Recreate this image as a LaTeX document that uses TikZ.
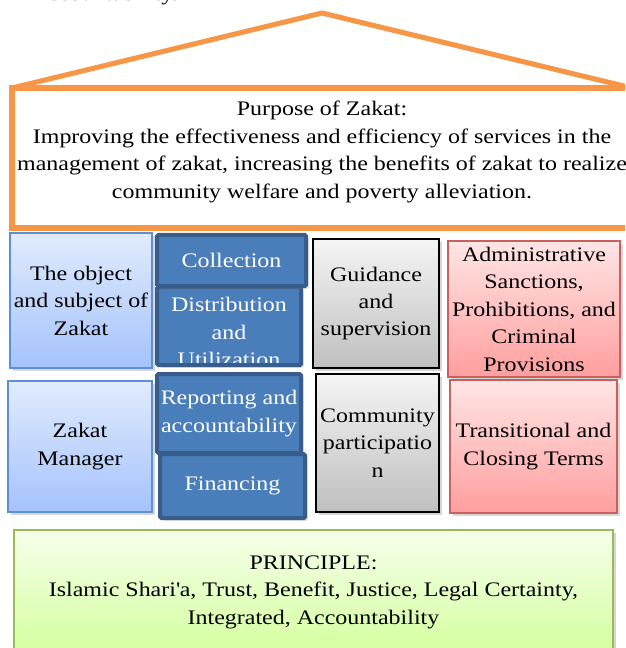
\documentclass[tikz,border=0pt]{standalone}
\usepackage{fontspec}
\setmainfont[FakeStretch=1.16]{Liberation Serif}
\usetikzlibrary{
    shadows           % For the soft shadow under the boxes
}

\definecolor{roofor}{HTML}{F79646}
\definecolor{lightblue}{HTML}{E1EBFD}
\definecolor{midblue}{HTML}{A4C3FB}
\definecolor{lineblue}{HTML}{5F8FD3}
\definecolor{deepblue}{HTML}{4A7EBB}
\definecolor{darkline}{HTML}{385D8A}
\definecolor{redline}{HTML}{C9605D}
\definecolor{greenline}{HTML}{9BBB59}

\begin{document}
\begin{tikzpicture}[
    x=0.75pt, y=-0.75pt,
    font=\fontsize{15.5}{20.6}\selectfont,
    boxshadow/.style={drop shadow={shadow xshift=2pt, shadow yshift=-2pt, opacity=0.35, fill=black!45}},
    lightbox/.style={
        boxshadow, draw=lineblue, line width=1.2pt,
        top color=lightblue, bottom color=midblue,
        align=center, inner sep=1pt
    },
    darkbox/.style={
        boxshadow, draw=darkline, line width=3pt, rounded corners=1pt,
        fill=deepblue, text=white,
        align=center, inner sep=1pt
    },
    graybox/.style={
        boxshadow, draw=black, line width=1.5pt,
        top color=gray!8, bottom color=gray!50,
        align=center, inner sep=1pt
    },
    redbox/.style={
        boxshadow, draw=redline, line width=1.2pt,
        top color=red!10, bottom color=red!38,
        align=center, inner ysep=0pt, inner xsep=1pt
    },
    greenbox/.style={
        boxshadow, draw=greenline, line width=1.2pt,
        top color=green!40!yellow!8, bottom color=green!45!yellow!38,
        align=center
    }
]
    \useasboundingbox (0,0) rectangle (625,648);
    \clip (0,0) rectangle (625,648);

    % --- Cut-off line of the page above ---
    \node[anchor=base east, inner sep=0pt] (pagetext) at (178,1) {Accountability.};

    % --- Roof: purpose of zakat ---
    \draw[roofor, line width=3.8pt, line join=round] (12,88) -- (322,13) -- (632,88);
    \node[draw=roofor, line width=3.8pt, fill=white, minimum width=465pt, minimum height=105pt] (purpose) at (322,158) {};
    \node[align=center] (purposetxt) at (322,152) {Purpose of Zakat:\\
        Improving the effectiveness and efficiency of services in the\\
        management of zakat, increasing the benefits of zakat to realize\\
        community welfare and poverty alleviation.};

    % --- First row of pillars ---
    \node[lightbox, minimum width=106.5pt, minimum height=101.25pt] (object) at (81,300.5) {The object\\and subject of\\Zakat};
    \node[darkbox, minimum width=108pt, minimum height=58.5pt] (distrib) at (229,326) {};
    \begin{scope}
        \clip (159,289) rectangle (299,362);
        \node[align=center, text=white] (distribtxt) at (229,332) {Distribution\\and\\Utilization};
    \end{scope}
    \node[darkbox, minimum width=111.75pt, minimum height=38.25pt] (collect) at (231.5,260.5) {Collection};
    \node[graybox, minimum width=94.5pt, minimum height=96.75pt] (guide) at (376,303.5) {Guidance\\and\\supervision};
    \node[redbox, minimum width=129pt, minimum height=102pt] (sanction) at (534,309) {Administrative\\Sanctions,\\Prohibitions, and\\Criminal\\Provisions};

    % --- Second row of pillars ---
    \node[lightbox, minimum width=108pt, minimum height=98.25pt] (manager) at (80,446.5) {Zakat\\Manager};
    \node[darkbox, minimum width=108pt, minimum height=59.25pt] (report) at (229,413.5) {Reporting and\\accountability};
    \node[darkbox, minimum width=108.75pt, minimum height=48pt] (finance) at (232.5,486) {Financing};
    \node[graybox, minimum width=92.25pt, minimum height=103.5pt] (commun) at (377.5,443) {Community\\participatio\\n};
    \node[redbox, minimum width=125.25pt, minimum height=99.75pt] (closing) at (533.5,446.5) {Transitional and\\Closing Terms};

    % --- Foundation ---
    \node[greenbox, minimum width=449.25pt, minimum height=93pt] (principle) at (313.5,592) {PRINCIPLE:\\
        Islamic Shari\textquotesingle a, Trust, Benefit, Justice, Legal Certainty,\\
        Integrated, Accountability};

\end{tikzpicture}
\end{document}
